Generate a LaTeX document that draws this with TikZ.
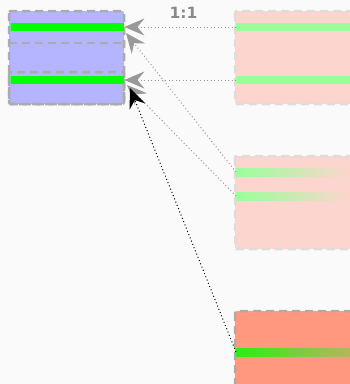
\documentclass[tikz,border=0pt]{standalone}
\usepackage{fontspec}
\setsansfont{DejaVu Sans}
\usetikzlibrary{arrows.meta}
\definecolor{bg}{HTML}{FAFAFA}
\definecolor{lilac}{HTML}{B5B5FF}
\definecolor{peach}{HTML}{FCD5CE}
\definecolor{salmon}{HTML}{FF987F}
\definecolor{lime}{HTML}{00FF00}
\definecolor{palelime}{HTML}{99FF99}
\definecolor{edgegray}{HTML}{ABABAB}
\definecolor{edgelight}{HTML}{DDDDDD}
\definecolor{linkgray}{HTML}{999999}
\pgfdeclarehorizontalshading{limefade}{100bp}{color(0bp)=(lime); color(10bp)=(lime); color(100bp)=(salmon)}
\tikzset{
  boxedge/.style={draw=edgegray, line width=2.5pt, dash pattern=on 8pt off 5pt},
  lightedge/.style={draw=edgelight, line width=2.5pt, dash pattern=on 8pt off 5pt},
  bar/.style={inner sep=0pt, minimum height=8pt, anchor=west},
  link/.style={draw=linkgray, line width=1pt, dash pattern=on 1pt off 2.5pt,
    -{Stealth[length=20pt, width=17pt, inset=7pt, fill=linkgray]}},
  blacklink/.style={draw=black, line width=1pt, dash pattern=on 1pt off 2.5pt,
    -{Stealth[length=20pt, width=17pt, inset=7pt, fill=black]}},
}
\begin{document}
\begin{tikzpicture}[x=1pt, y=-1pt]
\useasboundingbox (0,0) rectangle (350,384);
\fill[bg] (0,0) rectangle (350,384);
\begin{scope}
\clip (0,0) rectangle (350,384);

% target block on the left
\path[fill=lilac, boxedge, rounded corners=2pt] (9,11) rectangle (124,104);
\draw[boxedge] (9,43) -- (124,43);
\draw[boxedge, rounded corners=2pt] (9,72) rectangle (124,104);
\node[bar, fill=lime, minimum width=113pt] (t1) at (11,27) {};
\node[bar, fill=lime, minimum width=113pt] (t2) at (11,80) {};

% source block, top right
\path[fill=peach, lightedge, rounded corners=2pt] (235,11) rectangle (360,104);
\node[bar, fill=palelime, minimum width=124pt] (a1) at (236,27) {};
\node[bar, fill=palelime, minimum width=124pt] (a2) at (236,80) {};

% source block, middle right
\path[fill=peach, lightedge, rounded corners=2pt] (235,156) rectangle (360,249);
\node[bar, left color=palelime, right color=peach, minimum width=114pt] (b1) at (236,172) {};
\node[bar, left color=palelime, right color=peach, minimum width=114pt] (b2) at (236,196) {};

% source block, bottom right
\path[fill=salmon, boxedge, rounded corners=2pt] (235,311) rectangle (360,390);
\node[bar, shading=limefade, minimum width=114pt] (c1) at (236,352) {};
\end{scope}

% arrow tips along the right edge of the target block
\coordinate (h1) at (126,33);
\coordinate (h2) at (127,85);
\coordinate (h3) at (130,88);

\draw[link] (a1.west) -- (t1.east);
\draw[link] (a2.west) -- (t2.east);
\draw[link] (b1.west) -- (h1);
\draw[link] (b2.west) -- (h2);
\draw[blacklink] (c1.west) -- (h3);

\node[font=\sffamily\bfseries, text=linkgray!90!black, inner sep=0pt] (ratio) at (183.5,13) {\fontsize{15.5pt}{15.5pt}\selectfont 1:1};
\end{tikzpicture}
\end{document}
